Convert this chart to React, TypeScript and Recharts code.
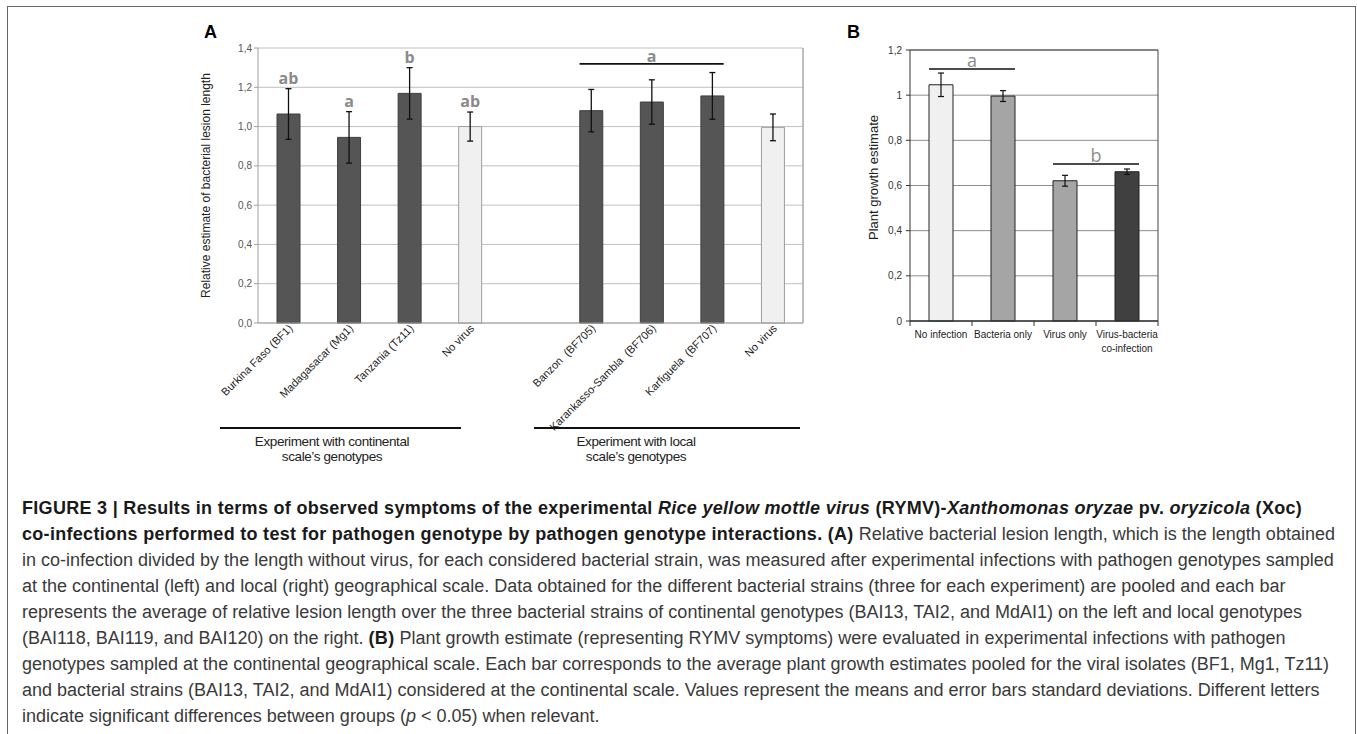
import React from 'react'
import {
  BarChart, Bar, Cell, XAxis, YAxis, CartesianGrid, ErrorBar, LabelList, ReferenceLine
} from 'recharts'

// Panel A: relative bacterial lesion length
const lesionKeys = ['bf1', 'mg1', 'tz11', 'nv1', 'gap', 'bf705', 'bf706', 'bf707', 'nv2']
const lesionLabels = [
  'Burkina Faso (BF1)', 'Madagasacar (Mg1)', 'Tanzania (Tz11)', 'No virus', '',
  'Banzon  (BF705)', 'Karankasso-Sambla  (BF706)', 'Karfiguela  (BF707)', 'No virus'
]
const lesionMeans = [1.064, 0.945, 1.169, 1.0, null, 1.081, 1.125, 1.156, 0.996]
const lesionSd = [0.129, 0.131, 0.131, 0.074, null, 0.108, 0.113, 0.119, 0.068]
const lesionLetters = ['ab', 'a', 'b', 'ab', '', '', '', '', 'b']
const lesionControl = [false, false, false, true, false, false, false, false, true]
const lesionTicks = [0, 0.2, 0.4, 0.6, 0.8, 1.0, 1.2, 1.4]
const lesionGroup = { from: 'bf705', to: 'bf707', y: 1.319, letter: 'a' }

// Panel B: plant growth estimate
const growthKeys = ['none', 'bact', 'virus', 'co']
const growthLabels = [['No infection'], ['Bacteria only'], ['Virus only'], ['Virus-bacteria', 'co-infection']]
const growthMeans = [1.046, 0.996, 0.621, 0.661]
const growthSd = [0.052, 0.024, 0.024, 0.012]
const growthFills = ['#f0f0f0', '#a5a5a5', '#a5a5a5', '#404040']
const growthTicks = [0, 0.2, 0.4, 0.6, 0.8, 1, 1.2]
const growthGroups = [
  { from: 'none', to: 'bact', y: 1.116, letter: 'a' },
  { from: 'virus', to: 'co', y: 0.695, letter: 'b' }
]

const lesionData = lesionKeys.map((key, i) => ({
  key, mean: lesionMeans[i], sd: lesionSd[i], letter: lesionLetters[i]
}))
const growthData = growthKeys.map((key, i) => ({ key, mean: growthMeans[i], sd: growthSd[i] }))

const FONT = "'Liberation Sans', Arial, Helvetica, sans-serif"
const BAR_A = 23
const BAR_B = 24

const commaTick = (digits: number) => (v: number) =>
  digits ? v.toFixed(digits).replace('.', ',') : String(Math.round(v * 10) / 10).replace('.', ',')

const LesionTick = (props: any) => {
  const { x, y, payload } = props
  const label = lesionLabels[lesionKeys.indexOf(payload.value)] || ''
  const tx = x + 5
  const ty = y + 6
  return (
    <text x={tx} y={ty} textAnchor="end" fontSize={11} fill="#222" fontFamily={FONT}
      transform={`rotate(-45 ${tx} ${ty})`} style={{ whiteSpace: 'pre' }}>
      {label}
    </text>
  )
}

const GrowthTick = (props: any) => {
  const { x, y, payload, index, visibleTicksCount } = props
  const lines = growthLabels[growthKeys.indexOf(payload.value)] || []
  const half = payload.offset || 31
  return (
    <g>
      <line x1={x - half} y1={y} x2={x - half} y2={y + 5} stroke="#333" />
      {index === visibleTicksCount - 1 && (
        <line x1={x + half} y1={y} x2={x + half} y2={y + 5} stroke="#333" />
      )}
      {lines.map((l, i) => (
        <text key={i} x={x} y={y + 17 + i * 14} textAnchor="middle" fontSize={10} fill="#222" fontFamily={FONT}>
          {l}
        </text>
      ))}
    </g>
  )
}

const LetterAbove = (props: any) => {
  const { x, y, width, height, index } = props
  const mean = lesionMeans[index]
  const letter = lesionLetters[index]
  if (!letter || mean == null) return null
  const errTop = y - (lesionSd[index] as number) * height / mean
  return (
    <text x={x + width / 2} y={errTop - 5} textAnchor="middle" fontSize={16} fontWeight="bold"
      fill="#8a8a8a" fontFamily="'Open Sans', Arial, sans-serif">
      {letter}
    </text>
  )
}

const groupLine = (ext: number) => (p: any) => (
  <line x1={p.x1 - ext} y1={p.y1} x2={p.x2 + ext} y2={p.y2} stroke="#111" strokeWidth={1.6} />
)

function PanelA() {
  return (
    <BarChart width={830} height={480} data={lesionData}
      margin={{ top: 48, right: 27, left: 208, bottom: 47 }}>
      <CartesianGrid vertical={false} stroke="#c0c0c0" />
      <CartesianGrid horizontal={false} stroke="#a8a8a8" strokeWidth={1.5}
        verticalCoordinatesGenerator={({ offset }: any) => [offset.left + offset.width]} />
      <XAxis dataKey="key" interval={0} height={110} tickLine={false} tickSize={0} tickMargin={0}
        axisLine={{ stroke: '#a0a0a0' }} tick={<LesionTick />} />
      <YAxis domain={[0, 1.4]} ticks={lesionTicks} width={50} tickFormatter={commaTick(1)}
        axisLine={{ stroke: '#a0a0a0' }} tickLine={{ stroke: '#a0a0a0' }} tickSize={4} tickMargin={2}
        tick={{ fontSize: 10, fill: '#555', fontFamily: FONT }}
        label={{
          content: (p: any) => {
            const cx = p.viewBox.x + 2
            const cy = p.viewBox.y + p.viewBox.height / 2
            return (
              <text x={cx} y={cy} transform={`rotate(-90 ${cx} ${cy})`} textAnchor="middle"
                fontSize={12} fill="#222" fontFamily={FONT}>
                Relative estimate of bacterial lesion length
              </text>
            )
          }
        }} />
      <Bar dataKey="mean" barSize={BAR_A} isAnimationActive={false}>
        {lesionData.map((d, i) => (
          <Cell key={d.key} fill={lesionControl[i] ? '#f0f0f0' : '#555555'}
            stroke={lesionControl[i] ? '#9e9e9e' : '#3e3e3e'} />
        ))}
        <ErrorBar dataKey="sd" width={3} stroke="#111" strokeWidth={1.3} />
        <LabelList dataKey="letter" content={<LetterAbove />} />
      </Bar>
      <ReferenceLine
        segment={[{ x: lesionGroup.from, y: lesionGroup.y }, { x: lesionGroup.to, y: lesionGroup.y }]}
        shape={groupLine(BAR_A / 2)}
        label={{ value: lesionGroup.letter, position: 'top', offset: 2, fontSize: 16, fontWeight: 'bold',
          fill: '#8a8a8a', fontFamily: "'Open Sans', Arial, sans-serif" }} />
    </BarChart>
  )
}

function PanelB() {
  return (
    <BarChart width={527} height={400} data={growthData}
      margin={{ top: 50, right: 199, left: 40, bottom: 39 }}>
      <CartesianGrid vertical={false} stroke="#8e8e8e" />
      <CartesianGrid horizontal={false} stroke="#444"
        verticalCoordinatesGenerator={({ offset }: any) => [offset.left + offset.width]} />
      <CartesianGrid vertical={false} stroke="#444"
        horizontalCoordinatesGenerator={({ offset }: any) => [offset.top]} />
      <XAxis dataKey="key" interval={0} height={40} tickLine={false} tickSize={0} tickMargin={0}
        axisLine={{ stroke: '#333', strokeWidth: 1.5 }} tick={<GrowthTick />} />
      <YAxis domain={[0, 1.2]} ticks={growthTicks} width={40} tickFormatter={commaTick(0)}
        axisLine={{ stroke: '#333' }} tickLine={{ stroke: '#333' }} tickSize={4} tickMargin={4}
        tick={{ fontSize: 10, fill: '#333', fontFamily: FONT }}
        label={{
          content: (p: any) => {
            const cx = p.viewBox.x + 8
            const cy = p.viewBox.y + p.viewBox.height / 2 - 8
            return (
              <text x={cx} y={cy} transform={`rotate(-90 ${cx} ${cy})`} textAnchor="middle"
                fontSize={13} fill="#222" fontFamily={FONT}>
                Plant growth estimate
              </text>
            )
          }
        }} />
      <Bar dataKey="mean" barSize={BAR_B} isAnimationActive={false}>
        {growthData.map((d, i) => (
          <Cell key={d.key} fill={growthFills[i]} stroke="#222" />
        ))}
        <ErrorBar dataKey="sd" width={3} stroke="#111" strokeWidth={1.2} />
      </Bar>
      {growthGroups.map(g => (
        <ReferenceLine key={g.letter}
          segment={[{ x: g.from, y: g.y }, { x: g.to, y: g.y }]}
          shape={groupLine(BAR_B / 2)}
          label={{ value: g.letter, position: 'top', offset: 2, fontSize: 18,
            fill: '#8c8c8c', fontFamily: "'Open Sans', Arial, sans-serif" }} />
      ))}
    </BarChart>
  )
}

const abs = (left: number, top: number, extra: React.CSSProperties = {}): React.CSSProperties => ({
  position: 'absolute', left, top, ...extra
})

const B = ({ children }: { children: React.ReactNode }) => (
  <b style={{ color: '#1a1a1a', letterSpacing: 0.3 }}>{children}</b>
)

const captionLines: React.ReactNode[] = [
  <B>FIGURE 3 | Results in terms of observed symptoms of the experimental <i>Rice yellow mottle virus</i> (RYMV)-<i>Xanthomonas oryzae</i> pv. <i>oryzicola</i> (Xoc)</B>,
  <><B>co-infections performed to test for pathogen genotype by pathogen genotype interactions. (A)</B> Relative bacterial lesion length, which is the length obtained</>,
  <>in co-infection divided by the length without virus, for each considered bacterial strain, was measured after experimental infections with pathogen genotypes sampled</>,
  <>at the continental (left) and local (right) geographical scale. Data obtained for the different bacterial strains (three for each experiment) are pooled and each bar</>,
  <>represents the average of relative lesion length over the three bacterial strains of continental genotypes (BAI13, TAI2, and MdAI1) on the left and local genotypes</>,
  <>(BAI118, BAI119, and BAI120) on the right. <B>(B)</B> Plant growth estimate (representing RYMV symptoms) were evaluated in experimental infections with pathogen</>,
  <>genotypes sampled at the continental geographical scale. Each bar corresponds to the average plant growth estimates pooled for the viral isolates (BF1, Mg1, Tz11)</>,
  <>and bacterial strains (BAI13, TAI2, and MdAI1) considered at the continental scale. Values represent the means and error bars standard deviations. Different letters</>,
  <>indicate significant differences between groups (<i>p</i> &lt; 0.05) when relevant.</>
]

export default function App() {
  const groupText: React.CSSProperties = {
    fontFamily: FONT, fontSize: 13.5, color: '#222', textAlign: 'center', lineHeight: '15px',
    letterSpacing: -0.4, width: 260, marginLeft: -130
  }
  return (
    <div style={{ position: 'absolute', left: 0, top: 0, width: 1357, height: 734, background: '#fff', overflow: 'hidden' }}>
      <div style={abs(7, 6, { width: 1349, height: 760, border: '1.5px solid #666', boxSizing: 'border-box' })} />
      <div style={abs(0, 0)}><PanelA /></div>
      <div style={abs(830, 0)}><PanelB /></div>
      <div style={abs(204, 22, { fontFamily: FONT, fontWeight: 'bold', fontSize: 18 })}>A</div>
      <div style={abs(847, 22, { fontFamily: FONT, fontWeight: 'bold', fontSize: 18 })}>B</div>

      <div style={abs(220, 427, { width: 241, height: 2, background: '#111' })} />
      <div style={abs(534, 427, { width: 266, height: 2, background: '#111' })} />
      <div style={abs(332, 434, groupText)}>Experiment with continental<br />scale’s genotypes</div>
      <div style={abs(636, 434, groupText)}>Experiment with local<br />scale’s genotypes</div>

      <div style={abs(22, 495, { fontFamily: FONT, fontSize: 18, color: '#3a3a3a', lineHeight: '26px', whiteSpace: 'nowrap' })}>
        {captionLines.map((l, i) => (
          <div key={i}>{l}</div>
        ))}
      </div>
    </div>
  )
}
